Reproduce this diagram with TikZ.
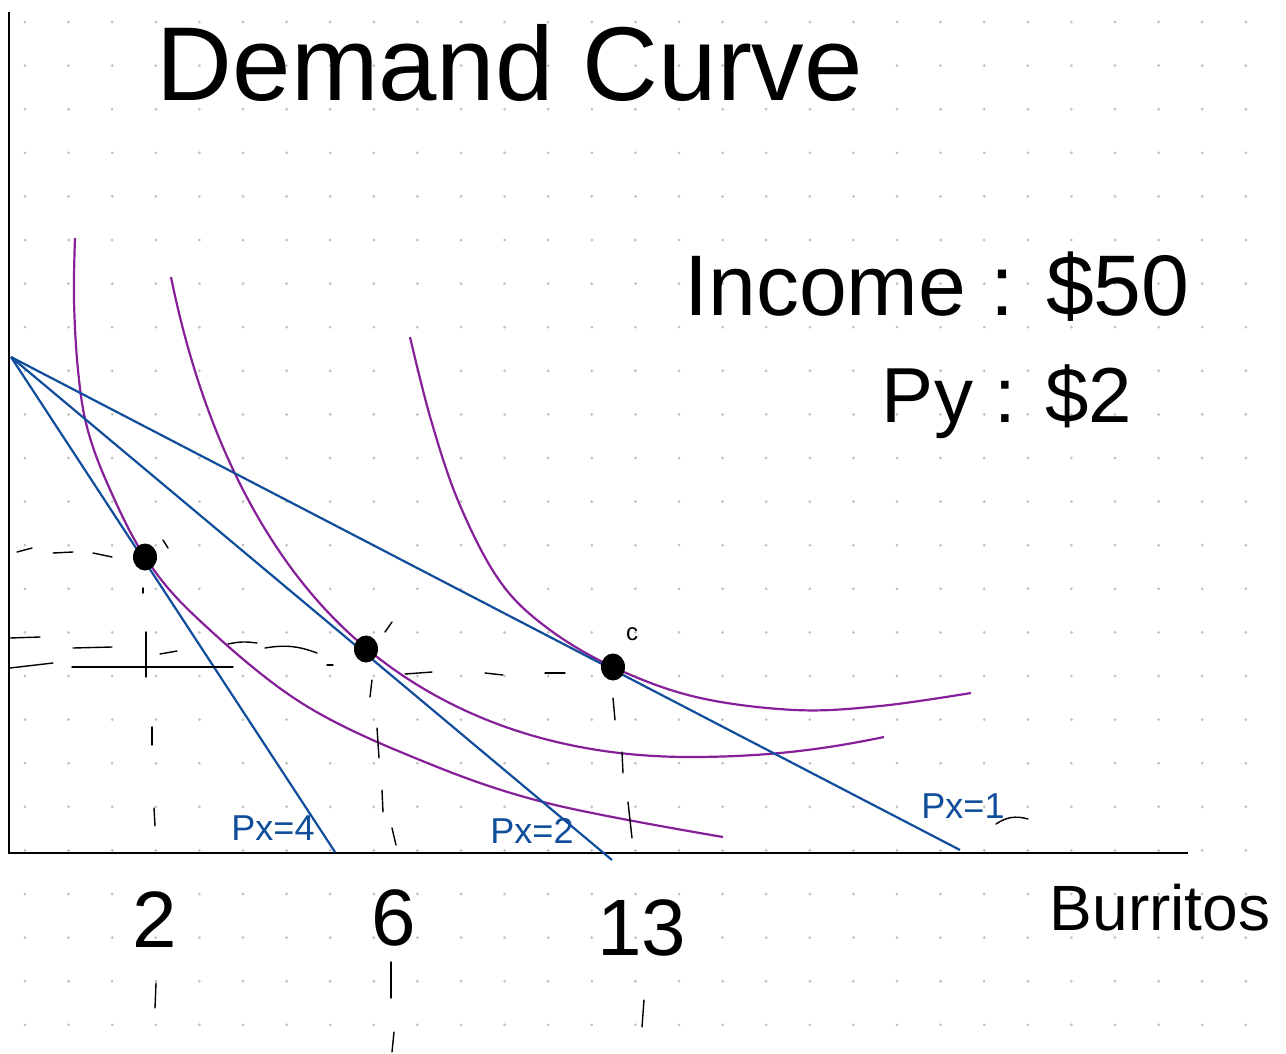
\documentclass[tikz,border=0pt]{standalone}
\usepackage{fontspec}
\setmainfont{Liberation Sans}
\usepackage{xcolor}
\usetikzlibrary{arrows.meta, positioning, calc, shapes.geometric}
\definecolor{linblue}{RGB}{16,78,156}
\definecolor{icpurple}{RGB}{134,32,152}
\definecolor{griddot}{RGB}{192,192,192}
\newcommand{\handsize}[1]{\fontsize{#1}{#1}\selectfont}

\begin{document}
\begin{tikzpicture}[x=1pt, y=-1pt,
    axis/.style={draw=black, line width=2.2pt},
    budget/.style={draw=linblue, line width=2.2pt},
    indiff/.style={draw=icpurple, line width=2.2pt},
    guide/.style={draw=black, line width=1.4pt, line cap=round},
    bundle/.style={ellipse, fill=black, minimum width=24pt, minimum height=27pt, inner sep=0pt},
    lbl/.style={anchor=base, inner sep=0pt},
    pxlbl/.style={anchor=base, inner sep=0pt, text=linblue, font=\handsize{36}}]
    \useasboundingbox (0,0) rectangle (1286,1053);
    \fill[white] (0,0) rectangle (1286,1053);
    % dotted paper
    \foreach \i in {0,...,28}
        \foreach \j in {0,...,23}
            \fill[griddot] ({25+43.6*\i},{22+43.6*\j}) circle (1.5);

    % axes
    \coordinate (ytop) at (9,12);
    \coordinate (origin) at (9,853);
    \coordinate (xend) at (1188,853);
    \draw[axis] (ytop) -- (origin) -- (xend);

    % indifference curves
    \draw[indiff] plot[smooth, tension=0.6] coordinates {(75,238) (74,300) (78,370) (87,427) (108,485) (145,557) (197,618) (300,702) (420,760) (547,803) (723,837)};
    \draw[indiff] (171,277) .. controls (200,420) and (260,560) .. (366,648)
        .. controls (450,718) and (560,757) .. (690,757)
        .. controls (780,757) and (840,746) .. (884,737);
    \draw[indiff] plot[smooth, tension=0.6] coordinates {(410,337) (431,420) (459,503) (499,580) (546,627) (613,667) (696,697) (795,710) (880,706) (971,693)};

    % budget lines
    \coordinate (ycept) at (11,357);
    \coordinate (px4end) at (335,852);
    \coordinate (px2end) at (612,860);
    \coordinate (px1end) at (960,850);
    \draw[budget] (ycept) -- (px4end);
    \draw[budget] (ycept) -- (px2end);
    \draw[budget] (ycept) -- (px1end);

    % optimal bundles
    \node[bundle] (optA) at (145,557) {};
    \node[bundle] (optB) at (366,649) {};
    \node[bundle] (optC) at (613,667) {};
    \draw[guide] (163,540) -- (168,548);
    \draw[guide] (385,632) -- (392,622);
    \node[font=\handsize{24}, inner sep=0pt] (markC) at (632,634) {c};

    % guide dashes
    \draw[guide] (17,552) -- (32,548);
    \draw[guide] (53,553) -- (73,552);
    \draw[guide] (93,553) -- (112,557);
    \draw[guide] (143,588) -- (143,593);
    \draw[guide] (10,638) -- (40,637);
    \draw[guide] (10,668) -- (53,663);
    \draw[guide] (73,648) -- (112,647);
    \draw[guide] (72,667) -- (233,667);
    \draw[guide] (146,632) -- (146,677);
    \draw[guide] (160,654) -- (177,651);
    \draw[guide] (228,644) to[bend left=10] (257,643);
    \draw[guide] (265,648) to[bend left=15] (317,653);
    \draw[guide] (327,665) -- (333,665);
    \draw[guide] (405,674) -- (432,672);
    \draw[guide] (485,673) -- (503,675);
    \draw[guide] (545,673) -- (565,673);
    \draw[guide] (152,727) -- (152,745);
    \draw[guide] (154,808) -- (155,826);
    \draw[guide] (372,680) -- (370,697);
    \draw[guide] (377,728) -- (379,758);
    \draw[guide] (382,790) -- (383,812);
    \draw[guide] (392,828) -- (396,845);
    \draw[guide] (613,698) -- (615,720);
    \draw[guide] (622,752) -- (623,773);
    \draw[guide] (628,802) -- (632,838);
    \draw[guide] (156,983) -- (155,1008);
    \draw[guide] (391,962) -- (391,998);
    \draw[guide] (394,1032) -- (392,1052);
    \draw[guide] (644,1000) -- (642,1027);

    % price labels
    \node[pxlbl] (lblpx4) at (273,840) {Px=4};
    \node[pxlbl] (lblpx2) at (532,843) {Px=2};
    \node[pxlbl] (lblpx1) at (963,818) {Px=1};
    \draw[guide] (1028,819) to[bend right=25] (996,824);

    % texts
    \node[lbl, font=\handsize{105}] (title) at (510,100) {Demand Curve};
    \node[lbl, font=\handsize{86}] (income) at (937,315) {Income : \$50};
    \node[lbl, font=\handsize{78}] (pricey) at (1007,422) {Py : \$2};
    \node[lbl, font=\handsize{64}] (xlabel) at (1160,930) {Burritos};
    \node[lbl, font=\handsize{80}] (qa) at (155,947) {2};
    \node[lbl, font=\handsize{80}] (qb) at (394,945) {6};
    \node[lbl, font=\handsize{80}] (qc) at (642,955) {13};
\end{tikzpicture}
\end{document}
